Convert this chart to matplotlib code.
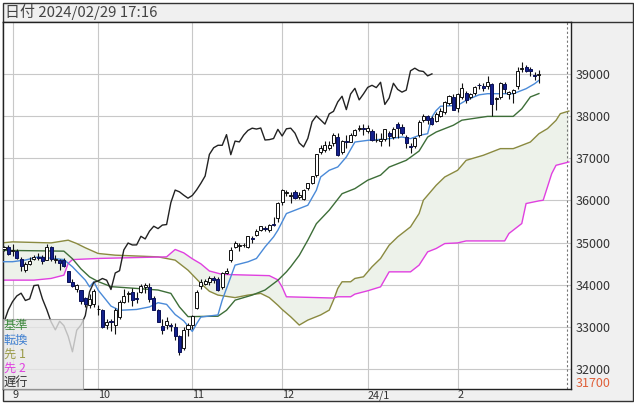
import matplotlib
matplotlib.use('Agg')
import matplotlib.pyplot as plt
from matplotlib.patches import Rectangle
import numpy as np

plt.rcParams['font.family'] = ['Noto Sans CJK JP', 'DejaVu Sans']

# daily candles, index 0 = first visible day
opens = [
    34850, 34900, 34810, 34800, 34620, 34350, 34500, 34620, 34670, 34650,
    34600, 34890, 34600, 34600, 34580, 34340, 34080, 33910, 33870, 33690,
    33520, 33560, 33420, 33400, 33060, 33140, 33050, 33250, 33600, 33780,
    33830, 33700, 33830, 33960, 33950, 33690, 33400, 33030, 33050, 33050,
    33000, 32790, 32500, 32950, 33050, 33450, 33970, 34020, 34080, 34160,
    34150, 33950, 34290, 34600, 34900, 34920, 34940, 34900, 35100, 35180,
    35290, 35350, 35300, 35450, 35580, 35960, 36180, 36100, 36200, 36090,
    36040, 36300, 36420, 36600, 37150, 37200, 37250, 37350, 37500, 37150,
    37390, 37390, 37550, 37680, 37720, 37650, 37650, 37420, 37400, 37450,
    37600, 37500, 37800, 37750, 37500, 37300, 37300, 37550, 37900, 38000,
    37950, 37880, 38000, 38100, 38300, 38450, 38200, 38450, 38550, 38450,
    38550, 38740, 38720, 38700, 38750, 38400, 38450, 38760, 38520, 38540,
    38700, 39120, 39150, 39100, 38980, 38980]
highs = [
    34920, 34950, 34980, 34840, 34670, 34550, 34650, 34700, 34760, 34700,
    34980, 34920, 34700, 34620, 34640, 34340, 34130, 34030, 33880, 33720,
    33790, 33900, 33520, 33420, 33200, 33200, 33450, 33650, 33900, 33850,
    33930, 33830, 34030, 34050, 34050, 33750, 33420, 33200, 33250, 33100,
    33100, 32820, 33000, 33100, 33300, 33870, 34150, 34150, 34200, 34200,
    34180, 34300, 34400, 34900, 35050, 35000, 35000, 35160, 35150, 35320,
    35400, 35400, 35450, 35600, 35970, 36260, 36250, 36200, 36250, 36200,
    36280, 36410, 36590, 37100, 37320, 37400, 37400, 37600, 37600, 37420,
    37550, 37600, 37700, 37780, 37800, 37780, 37700, 37600, 37600, 37700,
    37650, 37750, 37850, 37800, 37550, 37350, 37500, 37900, 38050, 38030,
    38000, 38100, 38200, 38350, 38500, 38520, 38550, 38780, 38600, 38550,
    38700, 38780, 38780, 38950, 38780, 38450, 38800, 38800, 38600, 38650,
    39150, 39280, 39200, 39150, 39050, 39080]
lows = [
    34800, 34700, 34680, 34620, 34340, 34300, 34480, 34580, 34600, 34500,
    34590, 34560, 34520, 34350, 34430, 34060, 33950, 33830, 33560, 33480,
    33450, 33480, 33300, 32980, 32950, 32900, 32850, 33200, 33580, 33600,
    33500, 33580, 33800, 33820, 33600, 33400, 33120, 32850, 32950, 32900,
    32700, 32330, 32450, 32800, 32950, 33420, 33900, 34000, 34000, 34050,
    33850, 33900, 34250, 34550, 34880, 34800, 34900, 34880, 35000, 35150,
    35270, 35280, 35250, 35400, 35500, 35900, 36100, 35950, 36030, 36030,
    36000, 36250, 36380, 36550, 37100, 37150, 37200, 37300, 37060, 37100,
    37250, 37380, 37520, 37650, 37550, 37600, 37400, 37380, 37300, 37400,
    37300, 37450, 37480, 37550, 37250, 37120, 37250, 37500, 37850, 37800,
    37780, 37850, 37980, 38050, 38250, 38140, 38100, 38400, 38300, 38400,
    38500, 38650, 38600, 38650, 38000, 38150, 38400, 38550, 38400, 38300,
    38650, 39050, 39030, 38950, 38850, 38780]
closes = [
    34890, 34722, 34838, 34641, 34443, 34500, 34577, 34664, 34646, 34576,
    34907, 34618, 34625, 34518, 34441, 34070, 33964, 34007, 33618, 33551,
    33667, 33850, 33433, 33002, 33129, 33120, 33408, 33605, 33740, 33805,
    33632, 33671, 33985, 33998, 33666, 33415, 33127, 32937, 33141, 33036,
    32785, 32418, 32929, 33053, 33275, 33840, 34061, 34096, 34153, 34112,
    33892, 34283, 34337, 34828, 34992, 34946, 34948, 35151, 35089, 35273,
    35390, 35334, 35417, 35430, 35951, 36246, 36204, 36125, 36054, 36118,
    36248, 36405, 36578, 37090, 37248, 37306, 37306, 37558, 37083, 37405,
    37386, 37545, 37657, 37711, 37690, 37715, 37431, 37440, 37466, 37683,
    37526, 37696, 37711, 37593, 37361, 37267, 37469, 37864, 38002, 37906,
    37807, 38050, 38109, 38333, 38467, 38150, 38520, 38654, 38380, 38521,
    38677, 38726, 38671, 38797, 38273, 38424, 38773, 38628, 38564, 38612,
    39069, 39131, 39069, 39053, 38949, 38996]

# ichimoku lines (day index, price)
kijun_x = [-1, 14, 16, 18, 20, 22, 25, 32, 36, 39, 41, 43, 50, 52, 54, 58, 61, 64, 66, 67,
           69, 71, 73, 76, 79, 82, 85, 88, 90, 94, 97, 99, 101, 105, 107, 113, 119, 121, 123, 125]
kijun_y = [34820, 34800, 34620, 34380, 34190, 34080, 33960, 33910, 33880, 33800,
           33480, 33250, 33260, 33400, 33640, 33760, 33880, 34110, 34310, 34430,
           34700, 35060, 35450, 35770, 36160, 36280, 36480, 36600, 36790, 36950,
           37170, 37500, 37620, 37780, 37900, 37990, 37990, 38170, 38450, 38530]
tenkan_x = [-1, 2, 5, 8, 14, 16, 19, 20, 21, 22, 25, 27, 31, 34, 36, 38, 40, 42, 44, 45,
            46, 50, 51, 53, 54, 57, 59, 61, 63, 64, 66, 69, 71, 73, 74, 76, 78, 80, 82, 85,
            90, 93, 95, 97, 99, 100, 101, 102, 106, 108, 111, 113, 119, 120, 122, 124, 125]
tenkan_y = [34550, 34550, 34590, 34665, 34600, 34430, 34114, 33956, 34075, 33878,
            33500, 33400, 33420, 33480, 33580, 33540, 33300, 33150, 32900, 33080,
            33240, 33290, 33640, 34192, 34469, 34547, 34627, 34900, 35138, 35296,
            35690, 35808, 35887, 36242, 36556, 36714, 36793, 37029, 37383, 37423,
            37463, 37502, 37463, 37540, 37580, 37975, 38130, 38230, 38250, 38370,
            38500, 38527, 38527, 38566, 38645, 38763, 38842]
span1_x = [-1, 2, 11, 15, 17, 19, 22, 26, 36, 40, 43, 46, 48, 50, 54, 57, 60, 62, 64, 65,
           67, 69, 71, 74, 76, 77, 78, 79, 81, 82, 84, 86, 88, 90, 92, 95, 97, 98, 101, 103,
           106, 108, 112, 116, 119, 120, 123, 125, 127, 129, 130, 132]
span1_y = [34990, 35020, 34995, 35060, 34980, 34880, 34745, 34705, 34665, 34587,
           34350, 34036, 33850, 33760, 33700, 33760, 33800, 33700, 33520, 33420,
           33246, 33050, 33168, 33290, 33404, 33640, 33918, 34075, 34075, 34154,
           34193, 34430, 34627, 34941, 35138, 35375, 35690, 36005, 36360, 36556,
           36714, 36950, 37069, 37227, 37227, 37265, 37383, 37580, 37700, 37896,
           38054, 38116]
span2_x = [-1, 7, 11, 14, 15, 16, 22, 38, 40, 42, 44, 46, 48, 51, 62, 64, 65, 66, 77, 78,
           81, 82, 85, 88, 90, 95, 97, 99, 101, 103, 106, 108, 117, 118, 121, 122, 125, 126,
           128, 129, 132]
span2_y = [34114, 34114, 34154, 34232, 34508, 34600, 34627, 34665, 34840, 34760,
           34620, 34500, 34330, 34250, 34220, 34120, 33950, 33720, 33690, 33720,
           33720, 33783, 33862, 33955, 34310, 34310, 34469, 34783, 34863, 34980,
           34995, 35042, 35042, 35218, 35454, 35927, 35990, 36005, 36636, 36832,
           36910]
chikou_shift = 25

month_idx = [2, 22, 44, 65, 85, 106]
month_labels = ['9', '10', '11', '12', '24/1', '2']
price_ticks = [32000, 33000, 34000, 35000, 36000, 37000, 38000, 39000]
low_mark = 31700
legend_labels = ['基準', '転換', '先 1', '先 2', '遅行']
legend_colors = ['#3f8a3f', '#3f7fd0', '#9a9a48', '#e040e0', '#333333']

W, H = 634, 403
fig = plt.figure(figsize=(W / 100, H / 100), dpi=100)
fig.patch.set_facecolor('white')

# background frame in pixel coordinates
bg = fig.add_axes([0, 0, 1, 1])
bg.set_xlim(0, W)
bg.set_ylim(H, 0)
bg.axis('off')
bg.add_patch(Rectangle((2.5, 2.5), 630, 398, facecolor='#f0f0f0', edgecolor='#333333', lw=1))
bg.plot([2.5, 632.5], [21.5, 21.5], color='#333333', lw=1)
bg.text(5, 12, '日付 2024/02/29 17:16', fontsize=10.8, va='center', ha='left', color='#444444')

ax = fig.add_axes([3 / W, (H - 389) / H, (571 - 3) / W, (389 - 21.5) / H])
ax.set_facecolor('white')
ax.set_xlim(-0.23, 132.5)
ax.set_ylim(31537, 40236)
for s in ax.spines.values():
    s.set_color('#222222')
    s.set_linewidth(1)

ax.set_xticks(month_idx)
ax.set_xticklabels(month_labels, ha='left')
ax.tick_params(axis='x', length=0, pad=1, labelsize=7.8, labelcolor='#333333')
ax.yaxis.tick_right()
ax.set_yticks(price_ticks)
ax.set_yticklabels([str(p) for p in price_ticks])
ax.set_yticks([low_mark], minor=True)
ax.set_yticklabels([str(low_mark)], minor=True)
ax.tick_params(axis='y', which='both', length=0, pad=3, labelsize=9, labelcolor='#333333')
ax.tick_params(axis='y', which='minor', labelcolor='#e0603a')
ax.grid(True, which='major', color='#c8c8c8', lw=0.8)
ax.set_axisbelow(True)
ax.axvline(131.5, color='#777777', ls=(0, (2, 2)), lw=0.8)

# cloud
ax.fill(np.concatenate([span1_x, span2_x[::-1]]), np.concatenate([span1_y, span2_y[::-1]]),
        color='#edf2ea', lw=0, zorder=1)
ax.plot(span1_x, span1_y, color='#8a8a40', lw=1, zorder=2)
ax.plot(span2_x, span2_y, color='#e040e0', lw=1, zorder=2)
ax.plot(kijun_x, kijun_y, color='#3d6e38', lw=1, zorder=3)
ax.plot(tenkan_x, tenkan_y, color='#4a8ad8', lw=1, zorder=3)

idx = np.arange(len(closes))
o = np.array(opens)
c = np.array(closes)
ax.plot(idx - chikou_shift, c, color='#222222', lw=1, zorder=3)

# candles
up = c >= o
body = np.maximum(np.abs(c - o), 14)
base = np.minimum(o, c)
ax.vlines(idx, lows, highs, color='#111111', lw=0.8, zorder=4)
ax.bar(idx[up], body[up], bottom=base[up], width=0.72, color='white',
       edgecolor='#111111', lw=0.7, zorder=5)
ax.bar(idx[~up], body[~up], bottom=base[~up], width=0.72, color='#13208c',
       edgecolor='#0a1055', lw=0.7, zorder=5)

# legend box on top
ov = fig.add_axes([0, 0, 1, 1])
ov.set_xlim(0, W)
ov.set_ylim(H, 0)
ov.axis('off')
ov.patch.set_alpha(0)
ov.add_patch(Rectangle((3, 318.5), 80, 70.5, facecolor='#e6e6e6', alpha=0.8,
                       edgecolor='#999999', lw=0.8))
for k, (lab, col) in enumerate(zip(legend_labels, legend_colors)):
    ov.text(4, 326 + 14 * k, lab, fontsize=8.8, color=col, va='center', ha='left')

fig.savefig('out.png', dpi=100)
